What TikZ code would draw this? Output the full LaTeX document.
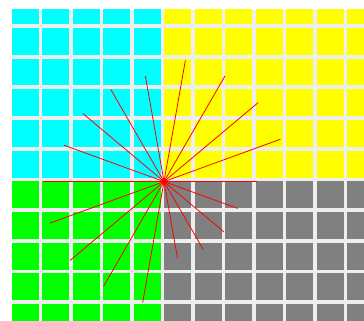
\documentclass[tikz,border=0pt]{standalone}
\definecolor{gapgray}{RGB}{238,238,238}
\definecolor{qcyan}{RGB}{0,255,255}
\definecolor{qyellow}{RGB}{255,255,0}
\definecolor{qgreen}{RGB}{0,255,0}
\definecolor{qgray}{RGB}{128,128,128}
\begin{document}
\begin{tikzpicture}[x=1pt,y=-1pt,
  ray/.style={draw=red,line width=0.8pt},
  cell/.style={fill=#1}]
\useasboundingbox (0,0) rectangle (364,321);
\begin{scope}
  \clip (12,10) rectangle (364,321);
  \fill[gapgray] (12,10) rectangle (364,321);
  \foreach \i in {0,...,11}{
    \foreach \j in {0,...,10}{
      \pgfmathsetmacro\xx{12+30.45*\i}
      \pgfmathsetmacro\yy{-2.7+30.68*\j}
      \ifnum\i<5
        \ifnum\j<6 \def\col{qcyan}\else\def\col{qgreen}\fi
      \else
        \ifnum\j<6 \def\col{qyellow}\else\def\col{qgray}\fi
      \fi
      \fill[cell=\col] (\xx,\yy) rectangle ++(27,26.8);
    }
  }
\end{scope}
\coordinate (c) at (164,181.6);
\foreach \a/\l in {0/93,20/124,40/123,60/122,80/123,100/107,120/106.5,140/106,160/106.5,180/121,200/121.5,220/122.7,240/121,260/122.6,280/77.5,300/78,320/78,340/78.4}{
  \draw[ray] (c) -- ++(-\a:\l);
}
\fill[red] (c) circle (2.6);
\end{tikzpicture}
\end{document}
